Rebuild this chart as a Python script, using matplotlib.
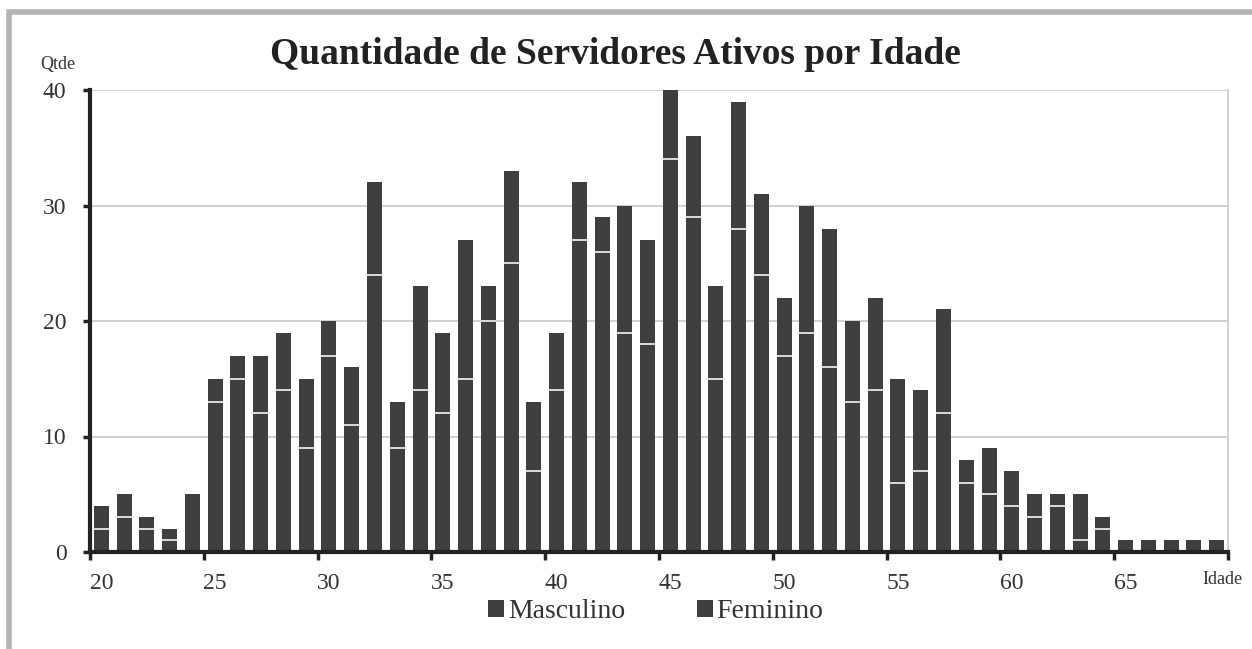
import matplotlib.pyplot as plt
from matplotlib.patches import Rectangle
import numpy as np

# -----------------------------
# DATA
# -----------------------------
idades = list(range(20, 70))

masculino = [2, 3, 2, 1, 5, 13, 15, 12, 14, 9,
             17, 11, 24, 9, 14, 12, 15, 20, 25, 7,
             14, 27, 26, 19, 18, 34, 29, 15, 28, 24,
             17, 19, 16, 13, 14, 6, 7, 12, 6, 5,
             4, 3, 4, 1, 2, 1, 1, 1, 1, 1]

feminino = [2, 2, 1, 1, 0, 2, 2, 5, 5, 6,
            3, 5, 8, 4, 9, 7, 12, 3, 8, 6,
            5, 5, 3, 11, 9, 6, 7, 8, 11, 7,
            5, 11, 12, 7, 8, 9, 7, 9, 2, 4,
            3, 2, 1, 4, 1, 0, 0, 0, 0, 0]

tick_labels = [str(i) for i in range(20, 70, 5)]

# -----------------------------
# PLOT
# -----------------------------
plt.rcParams['font.family'] = ['Liberation Serif', 'DejaVu Serif']
cor_barra = '#3f3f3f'
cor_texto = '#333333'

fig = plt.figure(figsize=(12.52, 6.49), dpi=100)
ax = fig.add_axes([90 / 1252, 1 - 552 / 649, 1138 / 1252, 462 / 649])

x = np.arange(len(idades))
m = np.array(masculino)
f = np.array(feminino)
w = 0.66

ax.bar(x, m, width=w, color=cor_barra, label='Masculino', zorder=2)
ax.bar(x, f, width=w, bottom=m, color=cor_barra, label='Feminino', zorder=2)

# linha clara separando os dois grupos
sep = (m > 0) & (f > 0)
ax.hlines(m[sep], x[sep] - w / 2, x[sep] + w / 2, colors='#e8e8e8', lw=1.3, zorder=3)

ax.set_xlim(-0.5, len(idades) - 0.5)
ax.set_ylim(0, 40)
ax.set_yticks([0, 10, 20, 30, 40])
ax.yaxis.grid(True, color='#c8c8c8', lw=1.2, zorder=0)
ax.set_axisbelow(True)

# ticks entre categorias, rótulos a cada 5 anos
ax.set_xticks(np.arange(-0.5, len(idades), 5))
ax.set_xticklabels([])
ax.set_xticks(np.arange(0, len(idades), 5), minor=True)
ax.set_xticklabels(tick_labels, minor=True)
ax.tick_params(axis='x', which='major', length=6, width=2.5, color='#222222', direction='out')
ax.tick_params(axis='x', which='minor', length=0, pad=15, labelsize=17, labelcolor=cor_texto)
ax.tick_params(axis='y', length=5, width=2.5, color='#222222', direction='out',
               labelsize=17, labelcolor=cor_texto, pad=12)

for s in ['left', 'bottom']:
    ax.spines[s].set_linewidth(3)
    ax.spines[s].set_color('#222222')
ax.spines['top'].set_visible(False)
ax.spines['right'].set_color('#c8c8c8')
ax.spines['right'].set_linewidth(1.2)

fig.text(615 / 1252, 1 - 55 / 649, 'Quantidade de Servidores Ativos por Idade',
         ha='center', va='center', fontsize=27, fontweight='bold', color='#222222')
fig.text(58 / 1252, 1 - 65 / 649, 'Qtde', ha='center', va='center', fontsize=13, color=cor_texto)
fig.text(1222 / 1252, 1 - 580 / 649, 'Idade', ha='center', va='center', fontsize=13, color=cor_texto)

leg = fig.legend(loc='center', bbox_to_anchor=(656 / 1252, 1 - 612 / 649), ncol=2,
                 frameon=False, fontsize=20, handlelength=0.55, handleheight=0.55,
                 handletextpad=0.15, columnspacing=2.6, labelcolor=cor_texto)

# moldura externa cinza
fig.patches.append(Rectangle((9 / 1252, -0.05), 1.1, 1 - 12 / 649 + 0.05,
                             transform=fig.transFigure, fill=False,
                             edgecolor='#b4b4b4', lw=4))

plt.savefig('out.png', dpi=100)
